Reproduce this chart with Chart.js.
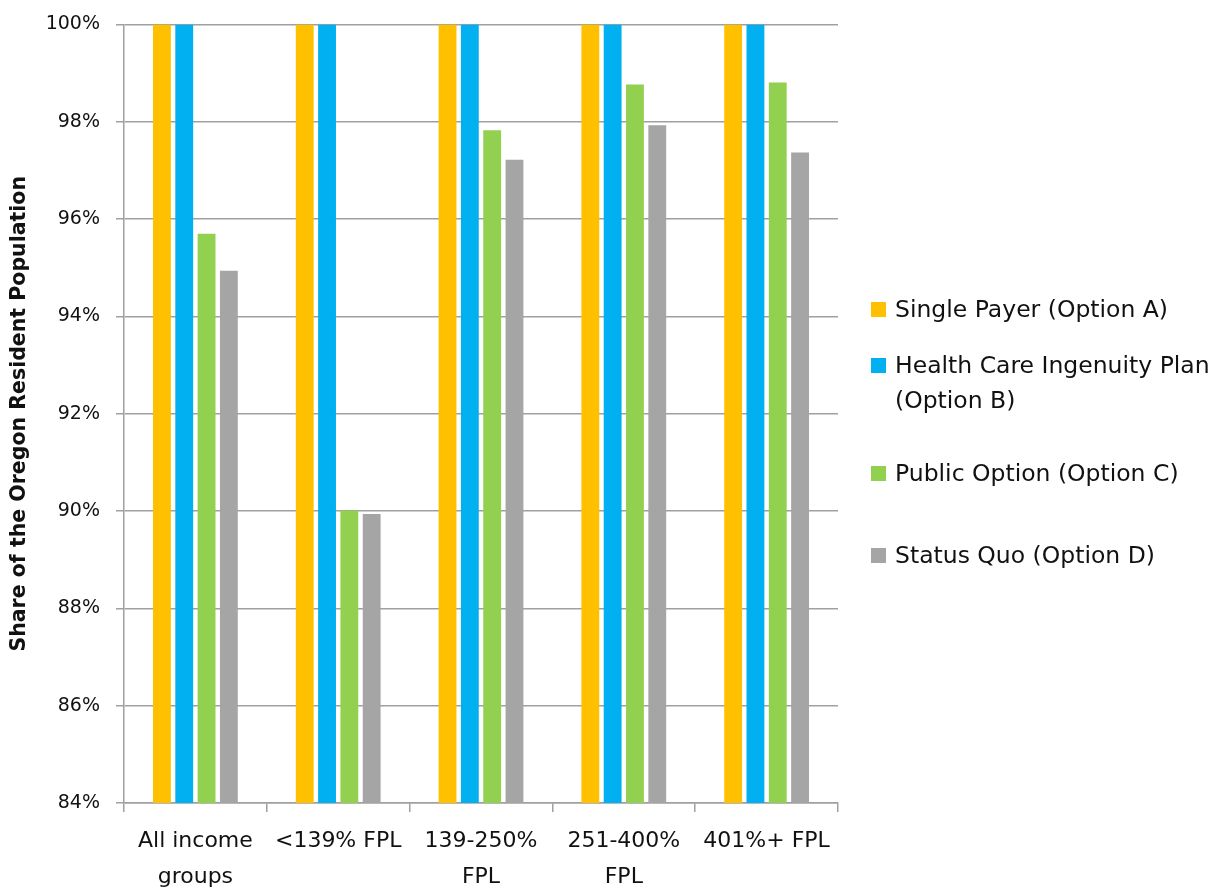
<!DOCTYPE html>
<html>
<head>
<meta charset="utf-8">
<script src="https://cdn.jsdelivr.net/npm/chart.js@4.4.1/dist/chart.umd.min.js"></script>
<style>
  html, body { margin: 0; padding: 0; background: #fff; }
  #wrap { position: relative; width: 1216px; height: 888px; }
  #legend { position: absolute; left: 871px; top: 0; font-family: "DejaVu Sans", sans-serif; font-size: 23.5px; color: #111; }
  .item { position: absolute; left: 0; white-space: nowrap; line-height: 35px; }
  .box { position: absolute; left: 0; top: 10px; width: 15px; height: 15px; }
  .txt { position: absolute; left: 24px; top: 0; }
</style>
</head>
<body>
<div id="wrap">
  <canvas id="chart" width="1216" height="888"></canvas>
  <div id="legend"></div>
</div>
<script>
const categories = [["All income", "groups"], "<139% FPL", ["139-250%", "FPL"], ["251-400%", "FPL"], "401%+ FPL"];
const seriesNames = ["Single Payer (Option A)", "Health Care Ingenuity Plan\n(Option B)", "Public Option (Option C)", "Status Quo (Option D)"];
const seriesColors = ["#FFC000", "#00B0F0", "#92D050", "#A5A5A5"];
const singlePayer = [100, 100, 100, 100, 100];
const ingenuityPlan = [100, 100, 100, 100, 100];
const publicOption = [95.70, 90.01, 97.83, 98.77, 98.81];
const statusQuo = [94.94, 89.94, 97.22, 97.93, 97.37];
const yTicks = [84, 86, 88, 90, 92, 94, 96, 98, 100];

const legendTops = [292, 348, 456, 538];

const seriesValues = [singlePayer, ingenuityPlan, publicOption, statusQuo];
const gridColor = "#a0a0a0";
const textColor = "#111";

// legend drawn as html on the right
const legendEl = document.getElementById("legend");
seriesNames.forEach((name, i) => {
    const item = document.createElement("div");
    item.className = "item";
    item.style.top = legendTops[i] + "px";
    item.innerHTML = '<div class="box" style="background:' + seriesColors[i] + '"></div>' +
        '<div class="txt">' + name.replace("\n", "<br>") + '</div>';
    legendEl.appendChild(item);
});

new Chart(document.getElementById("chart"), {
    type: "bar",
    data: {
        labels: categories,
        datasets: seriesValues.map((vals, i) => ({
            label: seriesNames[i],
            data: vals,
            backgroundColor: seriesColors[i],
            borderWidth: 0,
            categoryPercentage: 0.625,
            barPercentage: 0.8,
        })),
    },
    options: {
        responsive: false,
        animation: false,
        layout: {padding: {top: 21, right: 378, left: 0, bottom: 0}},
        plugins: {
            legend: {display: false},
            tooltip: {enabled: false},
        },
        scales: {
            x: {
                grid: {display: true, offset: true, drawOnChartArea: false, tickLength: 9, color: gridColor, lineWidth: 1.5},
                border: {display: true, color: gridColor, width: 1.5},
                ticks: {
                    color: textColor,
                    padding: 12,
                    maxRotation: 0,
                    autoSkip: false,
                    font: {family: "DejaVu Sans", size: 22, lineHeight: 1.6},
                },
                afterFit(scale) { scale.height = 85; },
            },
            y: {
                min: 84,
                max: 100,
                afterBuildTicks(scale) { scale.ticks = yTicks.map(v => ({value: v})); },
                grid: {color: gridColor, lineWidth: 1.5, tickLength: 8},
                border: {display: true, color: gridColor, width: 1.5},
                ticks: {
                    color: textColor,
                    padding: 16,
                    font: {family: "DejaVu Sans", size: 19, lineHeight: 0.9},
                    callback: v => v + "%",
                },
                title: {
                    display: true,
                    text: "Share of the Oregon Resident Population",
                    color: textColor,
                    padding: {top: 7, bottom: 0},
                    font: {family: "DejaVu Sans", size: 20.5, weight: "bold"},
                },
                afterFit(scale) { scale.width = 124; },
            },
        },
    },
});
</script>
</body>
</html>
